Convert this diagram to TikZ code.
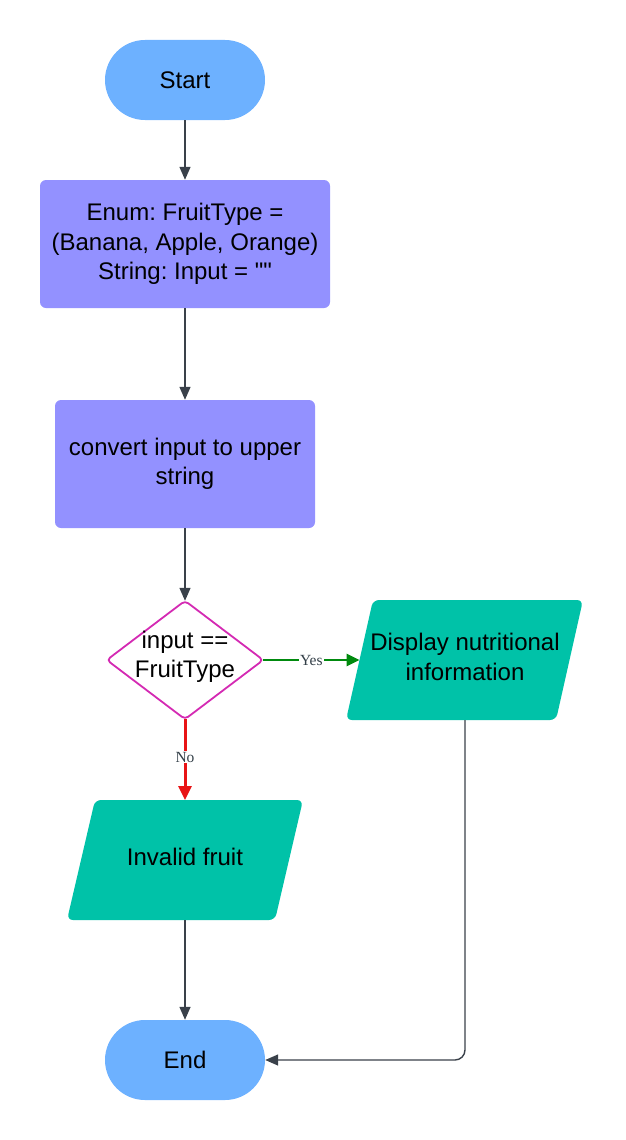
\documentclass[tikz,border=0pt]{standalone}
\usepackage{fontspec}
\setmainfont{Liberation Sans}
\newfontfamily\plainfont{Liberation Sans}
\newfontfamily\lblfont{Liberation Serif}
\usetikzlibrary{shapes.misc,arrows.meta}
\definecolor{termc}{HTML}{6DB1FF}
\definecolor{procc}{HTML}{9391FF}
\definecolor{ioc}{HTML}{00C2A8}
\definecolor{decc}{HTML}{D42AB3}
\definecolor{connc}{HTML}{3A414A}
\definecolor{yesc}{HTML}{008A0E}
\definecolor{noc}{HTML}{E81416}
\definecolor{lblc}{HTML}{333F48}
\frenchspacing
\begin{document}
\begin{tikzpicture}[x=1pt,y=-1pt,
  font=\fontsize{24}{29.5}\selectfont,
  terminal/.style={rounded rectangle, fill=termc, minimum width=160pt, minimum height=80pt, inner sep=0pt},
  process/.style={rectangle, rounded corners=6pt, fill=procc, align=center, inner sep=0pt},
  textbox/.style={rectangle, align=center, inner sep=0pt},
  iofill/.style={fill=ioc, draw=none, rounded corners=6pt},
  decshape/.style={draw=decc, line width=1.8pt, fill=white, rounded corners=4pt},
  conn/.style={draw=connc, line width=1.4pt, -{Triangle[length=13pt,width=11pt]}},
  yesarrow/.style={draw=yesc, line width=2.6pt, -{Triangle[length=13pt,width=12pt]}},
  noarrow/.style={draw=noc, line width=3pt, -{Triangle[length=14pt,width=13pt]}},
  lbl/.style={fill=white, inner sep=1pt, text=lblc, font=\lblfont\fontsize{15.5}{18}\selectfont}
]
\useasboundingbox (0,0) rectangle (625,1140);

% Start / End
\node[terminal] (start) at (185,80) {Start};
\node[terminal] (end) at (185,1060) {End};

% process boxes
\node[process, minimum width=290pt, minimum height=128pt] (init) at (185,244)
  {Enum: FruitType =\\(Banana, Apple, Orange)\\String: Input = {\plainfont""}};
\node[process, minimum width=260pt, minimum height=128pt] (conv) at (185,464)
  {convert input to upper\\string};

% decision
\node[textbox, minimum width=156pt, minimum height=118pt] (dec) at (185,660) {};
\draw[decshape] (dec.north) -- (dec.east) -- (dec.south) -- (dec.west) -- cycle;
\node[textbox] (dectext) at (185,657) {input ==\\FruitType};

% display parallelogram
\draw[iofill] (373,600) -- (583,600) -- (556,720) -- (346,720) -- cycle;
\node[textbox] (disp) at (465,657) {Display nutritional\\information};
\coordinate (dispin) at (359.5,660);
\coordinate (dispbot) at (465,720);

% invalid parallelogram
\draw[iofill] (95,800) -- (303,800) -- (275,920) -- (67,920) -- cycle;
\node[textbox] (inv) at (185,857) {Invalid fruit};
\coordinate (invtop) at (185,800);
\coordinate (invbot) at (185,920);

% connectors
\draw[conn] (start.south) -- (init.north);
\draw[conn] (init.south) -- (conv.north);
\draw[conn] (conv.south) -- (dec.north);
\draw[yesarrow] (dec.east) -- node[lbl, pos=0.5] (yes) {Yes} (dispin);
\draw[noarrow] (dec.south) -- node[lbl, pos=0.47] (no) {No} (invtop);
\draw[conn] (invbot) -- (end.north);
\draw[conn, rounded corners=10pt] (dispbot) -- (465,1060) -- (end.east);
\end{tikzpicture}
\end{document}
